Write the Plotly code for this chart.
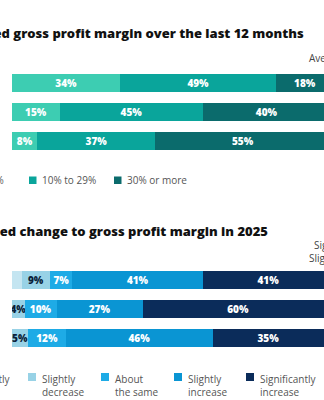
import plotly.graph_objects as go

# ---- data -------------------------------------------------------------
margin_rows = ["Segment A", "Segment B", "Segment C"]
margin_bands = ["Less than 10%", "10% to 29%", "30% or more"]
margin_values = [
    [34, 15, 8],    # Less than 10%
    [49, 45, 37],   # 10% to 29%
    [18, 40, 55],   # 30% or more
]
margin_colors = ["#3dcdb2", "#0aa59b", "#0b6b6c"]

change_rows = ["Segment A", "Segment B", "Segment C"]
change_bands = ["Significantly decrease", "Slightly decrease", "About the same",
                "Slightly increase", "Significantly increase"]
change_values = [
    [3, 0, 0],      # Significantly decrease
    [9, 4, 5],      # Slightly decrease
    [7, 10, 12],    # About the same
    [41, 27, 46],   # Slightly increase
    [41, 60, 35],   # Significantly increase
]
change_colors = ["#c4e5f1", "#98d2e6", "#1eabe6", "#0a95d3", "#0b2c5a"]
change_text_colors = ["#0b1f3a", "#0b1f3a", "white", "white", "white"]

title_top = "Reported gross profit margin over the last 12 months"
title_bottom = "Expected change to gross profit margin in 2025"

W, H = 324, 400
FONT = "Open Sans"


def px(x):
    return x / W


def py(y):
    return 1 - y / H


def label(v):
    return f"{v}%" if v >= 4 else ""


fig = go.Figure()

# ---- top stacked bars -------------------------------------------------
for name, vals, col in zip(margin_bands, margin_values, margin_colors):
    fig.add_trace(go.Bar(
        x=vals, y=margin_rows, orientation="h", name=name,
        marker=dict(color=col, line=dict(width=0)),
        text=[label(v) for v in vals], textposition="inside",
        insidetextanchor="middle", textangle=0, constraintext="none",
        textfont=dict(family=FONT, size=10, color="white", weight=800),
        xaxis="x", yaxis="y", showlegend=False, hoverinfo="skip",
    ))

# ---- bottom stacked bars ----------------------------------------------
for name, vals, col, tcol in zip(change_bands, change_values, change_colors, change_text_colors):
    fig.add_trace(go.Bar(
        x=vals, y=change_rows, orientation="h", name=name,
        marker=dict(color=col, line=dict(width=0)),
        text=[label(v) for v in vals], textposition="inside",
        insidetextanchor="middle", textangle=0, constraintext="none",
        textfont=dict(family=FONT, size=10, color=tcol, weight=800),
        xaxis="x2", yaxis="y2", showlegend=False, hoverinfo="skip",
    ))

axis_common = dict(showgrid=False, zeroline=False, showticklabels=False,
                   showline=False, ticks="")
fig.update_layout(
    width=W, height=H, margin=dict(l=0, r=0, t=0, b=0),
    paper_bgcolor="white", plot_bgcolor="white",
    barmode="stack", bargap=0.38,
    font=dict(family=FONT, color="#555555"),
    xaxis=dict(domain=[px(12), 1], range=[0, 98], anchor="y", **axis_common),
    yaxis=dict(domain=[py(155.5), py(68.5)], autorange="reversed",
               anchor="x", **axis_common),
    xaxis2=dict(domain=[px(12), 1], range=[0, 98], anchor="y2", **axis_common),
    yaxis2=dict(domain=[py(352), py(266)], autorange="reversed",
                anchor="x2", **axis_common),
)

ann = []
# section titles
ann.append(dict(x=px(306), y=py(33), xref="paper", yref="paper",
                xanchor="right", yanchor="middle", showarrow=False,
                text=title_top,
                font=dict(family=FONT, size=13, color="#111111", weight=800)))
ann.append(dict(x=px(270), y=py(231), xref="paper", yref="paper",
                xanchor="right", yanchor="middle", showarrow=False,
                text=title_bottom,
                font=dict(family=FONT, size=13, color="#111111", weight=800)))
# side notes
ann.append(dict(x=px(307), y=py(58), xref="paper", yref="paper",
                xanchor="left", yanchor="middle", showarrow=False,
                text="Average", font=dict(family=FONT, size=10, color="#444444")))
ann.append(dict(x=px(312), y=py(245), xref="paper", yref="paper",
                xanchor="left", yanchor="middle", showarrow=False,
                text="Significantly", font=dict(family=FONT, size=10, color="#444444")))
ann.append(dict(x=px(307), y=py(258), xref="paper", yref="paper",
                xanchor="left", yanchor="middle", showarrow=False,
                text="Slightly", font=dict(family=FONT, size=10, color="#444444")))

shapes = []
# top legend
top_sq = [-60, 29, 114]
for i, (name, col) in enumerate(zip(margin_bands, margin_colors)):
    x0 = top_sq[i]
    shapes.append(dict(type="rect", xref="paper", yref="paper",
                       x0=px(x0), x1=px(x0 + 7.5), y0=py(184), y1=py(176.5),
                       fillcolor=col, line=dict(width=0)))
    if i == 0:
        ann.append(dict(x=px(5.5), y=py(180), xref="paper", yref="paper",
                        xanchor="right", yanchor="middle", showarrow=False,
                        text=name, font=dict(family=FONT, size=10, color="#555555")))
    else:
        ann.append(dict(x=px(x0 + 11), y=py(180), xref="paper", yref="paper",
                        xanchor="left", yanchor="middle", showarrow=False,
                        text=name, font=dict(family=FONT, size=10, color="#555555")))

# bottom legend
bot_sq = [-45, 28, 101, 174, 246]
for i, (name, col) in enumerate(zip(change_bands, change_colors)):
    x0 = bot_sq[i]
    first, second = name.split(" ", 1)
    shapes.append(dict(type="rect", xref="paper", yref="paper",
                       x0=px(x0), x1=px(x0 + 8), y0=py(381), y1=py(373),
                       fillcolor=col, line=dict(width=0)))
    if i == 0:
        ann.append(dict(x=px(12.5), y=py(370), xref="paper", yref="paper",
                        xanchor="right", yanchor="top", align="left", showarrow=False,
                        text=f"{first}<br>{second}",
                        font=dict(family=FONT, size=10, color="#555555")))
    else:
        ann.append(dict(x=px(x0 + 12), y=py(370), xref="paper", yref="paper",
                        xanchor="left", yanchor="top", align="left", showarrow=False,
                        text=f"{first}<br>{second}",
                        font=dict(family=FONT, size=10, color="#555555")))

fig.update_layout(annotations=ann, shapes=shapes)
fig.write_html("out.html")
